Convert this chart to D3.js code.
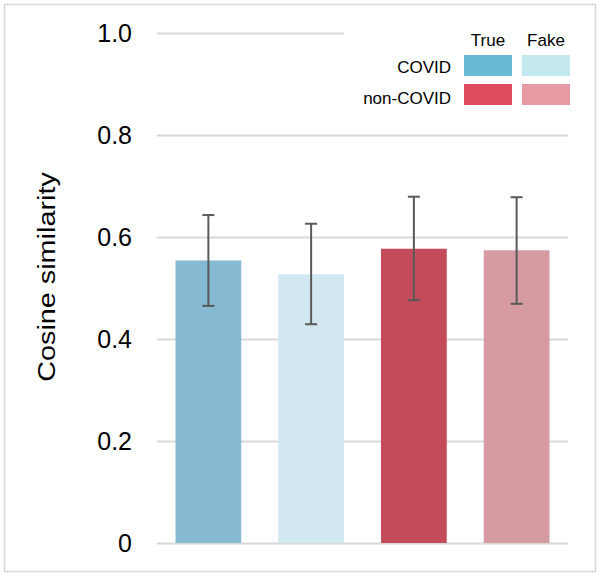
<!DOCTYPE html>
<html><head><meta charset="utf-8">
<script src="https://cdn.jsdelivr.net/npm/d3@7"></script>
<style>body{margin:0;background:#fff}svg{display:block}</style>
</head><body><svg id="c" width="601" height="577"></svg>
<script>
const categories = ["COVID True", "COVID Fake", "non-COVID True", "non-COVID Fake"];
const values = [0.554, 0.527, 0.577, 0.574];
const errLow = [0.465, 0.429, 0.476, 0.469];
const errHigh = [0.643, 0.626, 0.679, 0.678];
const barColors = ["#86b9d2", "#d1e8f0", "#c34b5a", "#d59aa2"];
const yTicks = [0, 0.2, 0.4, 0.6, 0.8, 1.0];
const legendCols = ["True", "Fake"];
const legendRows = ["COVID", "non-COVID"];
const legendColors = [["#69bad3", "#c3e9ee"], ["#df4b5e", "#e99ba5"]];

const svg = d3.select("#c");
const font = "'Liberation Sans', Arial, Helvetica, sans-serif";
svg.append("rect").attr("x",4.5).attr("y",4.5).attr("width",591).attr("height",567)
  .attr("fill","#fff").attr("stroke","#d9d9d9").attr("stroke-width",1.5);

const x = d3.scaleBand().domain(categories).range([157, 568]).paddingInner(0.36).paddingOuter(0.18);
const y = d3.scaleLinear().domain([0, 1]).range([543, 33]);

const yAxis = d3.axisLeft(y).tickValues(yTicks).tickSize(-(568-157))
  .tickFormat(d => d === 0 ? "0" : d3.format(".1f")(d));
const ga = svg.append("g").attr("transform","translate(157,0)").call(yAxis);
ga.select(".domain").remove();
ga.selectAll(".tick line").attr("stroke","#d9d9d9").attr("stroke-width",1.8);
ga.selectAll(".tick text").attr("x",-25).attr("dy","0.35em")
  .attr("font-family",font).attr("font-size",25).attr("fill","#000");

svg.append("g").selectAll("rect").data(categories).join("rect")
  .attr("x", d => x(d)).attr("width", x.bandwidth())
  .attr("y", (d,i) => y(values[i])).attr("height", (d,i) => y(0) - y(values[i]))
  .attr("fill", (d,i) => barColors[i]);

const eg = svg.append("g").attr("stroke","#595959").attr("stroke-width",2);
categories.forEach((c,i) => {
  const cx = x(c) + x.bandwidth()/2;
  eg.append("line").attr("x1",cx).attr("x2",cx).attr("y1",y(errLow[i])).attr("y2",y(errHigh[i]));
  eg.append("line").attr("x1",cx-6).attr("x2",cx+6).attr("y1",y(errLow[i])).attr("y2",y(errLow[i]));
  eg.append("line").attr("x1",cx-6).attr("x2",cx+6).attr("y1",y(errHigh[i])).attr("y2",y(errHigh[i]));
});

// Legend
const lg = svg.append("g");
lg.append("rect").attr("x",344).attr("y",20).attr("width",236).attr("height",92).attr("fill","#fff");
const colX = [464, 522], sw = 48, rowY = [55, 84], sh = 21, rowBase = [73, 104];
legendCols.forEach((t,j) => lg.append("text").attr("x", colX[j]+sw/2).attr("y",46)
  .attr("text-anchor","middle").attr("font-family",font).attr("font-size",17).text(t));
legendRows.forEach((r,i) => {
  lg.append("text").attr("x",451).attr("y",rowBase[i])
    .attr("text-anchor","end").attr("font-family",font).attr("font-size",17).text(r);
  legendCols.forEach((c,j) => lg.append("rect").attr("x",colX[j]).attr("y",rowY[i])
    .attr("width",sw).attr("height",sh).attr("fill",legendColors[i][j]));
});

svg.append("text").attr("transform","translate(55,277) rotate(-90) scale(1.2,1)")
  .attr("text-anchor","middle").attr("font-family",font).attr("font-size",24)
  .text("Cosine similarity");
</script></body></html>
